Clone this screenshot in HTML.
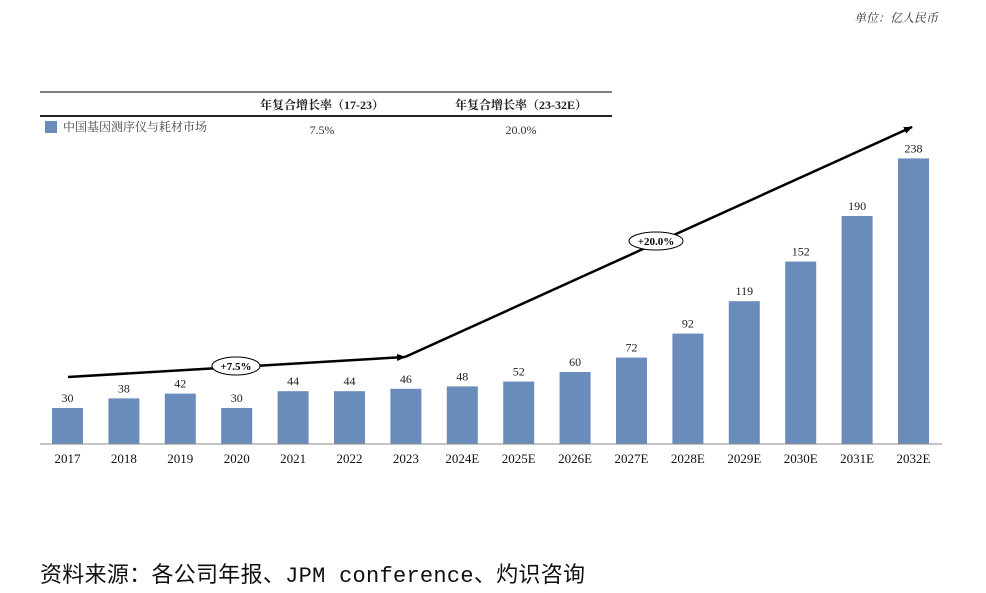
<!DOCTYPE html>
<html><head><meta charset="utf-8">
<style>
body{margin:0;background:#fff;width:986px;height:593px;overflow:hidden;font-family:"Liberation Serif","Noto Serif CJK SC",serif;}
svg{position:absolute;left:0;top:0}
</style></head>
<body>
<svg width="986" height="593" id="chart">
<text x="938" y="22" text-anchor="end" font-size="12" font-style="italic" fill="#333">单位：亿人民币</text>
<g>
<line x1="40" y1="92" x2="612" y2="92" stroke="#555" stroke-width="1.5"/>
<line x1="40" y1="116" x2="612" y2="116" stroke="#222" stroke-width="2"/>
<text x="322" y="109" text-anchor="middle" font-size="12" font-weight="bold" fill="#222">年复合增长率（17-23）</text>
<text x="521" y="109" text-anchor="middle" font-size="12" font-weight="bold" fill="#222">年复合增长率（23-32E）</text>
<rect x="45" y="121" width="12" height="12" fill="#6a8cbb"/>
<text x="63" y="131" font-size="12" fill="#444">中国基因测序仪与耗材市场</text>
<text x="322" y="134" text-anchor="middle" font-size="12" fill="#333">7.5%</text>
<text x="521" y="134" text-anchor="middle" font-size="12" fill="#333">20.0%</text>
</g>
<g id="bars"></g>
<line x1="40" y1="444" x2="942" y2="444" stroke="#888" stroke-width="1"/>
<g>
<defs><marker id="ah" markerUnits="userSpaceOnUse" markerWidth="9" markerHeight="7" refX="8" refY="3.5" orient="auto"><path d="M0,0L9,3.5L0,7z" fill="#000"/></marker></defs>
<polyline points="68,377 405,357" fill="none" stroke="#000" stroke-width="2.5" marker-end="url(#ah)"/>
<polyline points="405,357 912,127" fill="none" stroke="#000" stroke-width="2.5" marker-end="url(#ah)"/>
<ellipse cx="236" cy="366" rx="24" ry="9" fill="#fff" stroke="#000"/>
<text x="236" y="370" text-anchor="middle" font-size="11" font-weight="bold">+7.5%</text>
<ellipse cx="656" cy="241" rx="27" ry="9" fill="#fff" stroke="#000"/>
<text x="656" y="245" text-anchor="middle" font-size="11" font-weight="bold">+20.0%</text>
</g>
<text x="40" y="582" font-size="22" font-family="'Liberation Mono','Noto Sans CJK SC',monospace" fill="#111" textLength="545">资料来源：各公司年报、JPM conference、灼识咨询</text>
</svg>
<script>
const categories=["2017","2018","2019","2020","2021","2022","2023","2024E","2025E","2026E","2027E","2028E","2029E","2030E","2031E","2032E"];
const values=[30,38,42,30,44,44,46,48,52,60,72,92,119,152,190,238];
const g=document.getElementById('bars');
const NS="http://www.w3.org/2000/svg";
const x0=67.5,step=56.4,bw=31,base=444,k=1.2;
const xs=i=>x0+i*step, ys=v=>base-v*k;
categories.forEach((c,i)=>{
 const r=document.createElementNS(NS,'rect');
 r.setAttribute('x',xs(i)-bw/2);r.setAttribute('y',ys(values[i]));
 r.setAttribute('width',bw);r.setAttribute('height',base-ys(values[i]));
 r.setAttribute('fill','#6a8cbb');
 
 
 g.appendChild(r);
 const t=document.createElementNS(NS,'text');
 t.setAttribute('x',xs(i));t.setAttribute('y',ys(values[i])-6);
 t.setAttribute('text-anchor','middle');t.setAttribute('font-size','12');t.setAttribute('fill','#222');
 t.textContent=values[i];
 
 
 g.appendChild(t);
 const l=document.createElementNS(NS,'text');
 l.setAttribute('x',xs(i));l.setAttribute('y',463);
 l.setAttribute('text-anchor','middle');l.setAttribute('font-size','13');l.setAttribute('fill','#111');
 l.textContent=c;
 
 
 g.appendChild(l);
});
</script>
</body></html>
